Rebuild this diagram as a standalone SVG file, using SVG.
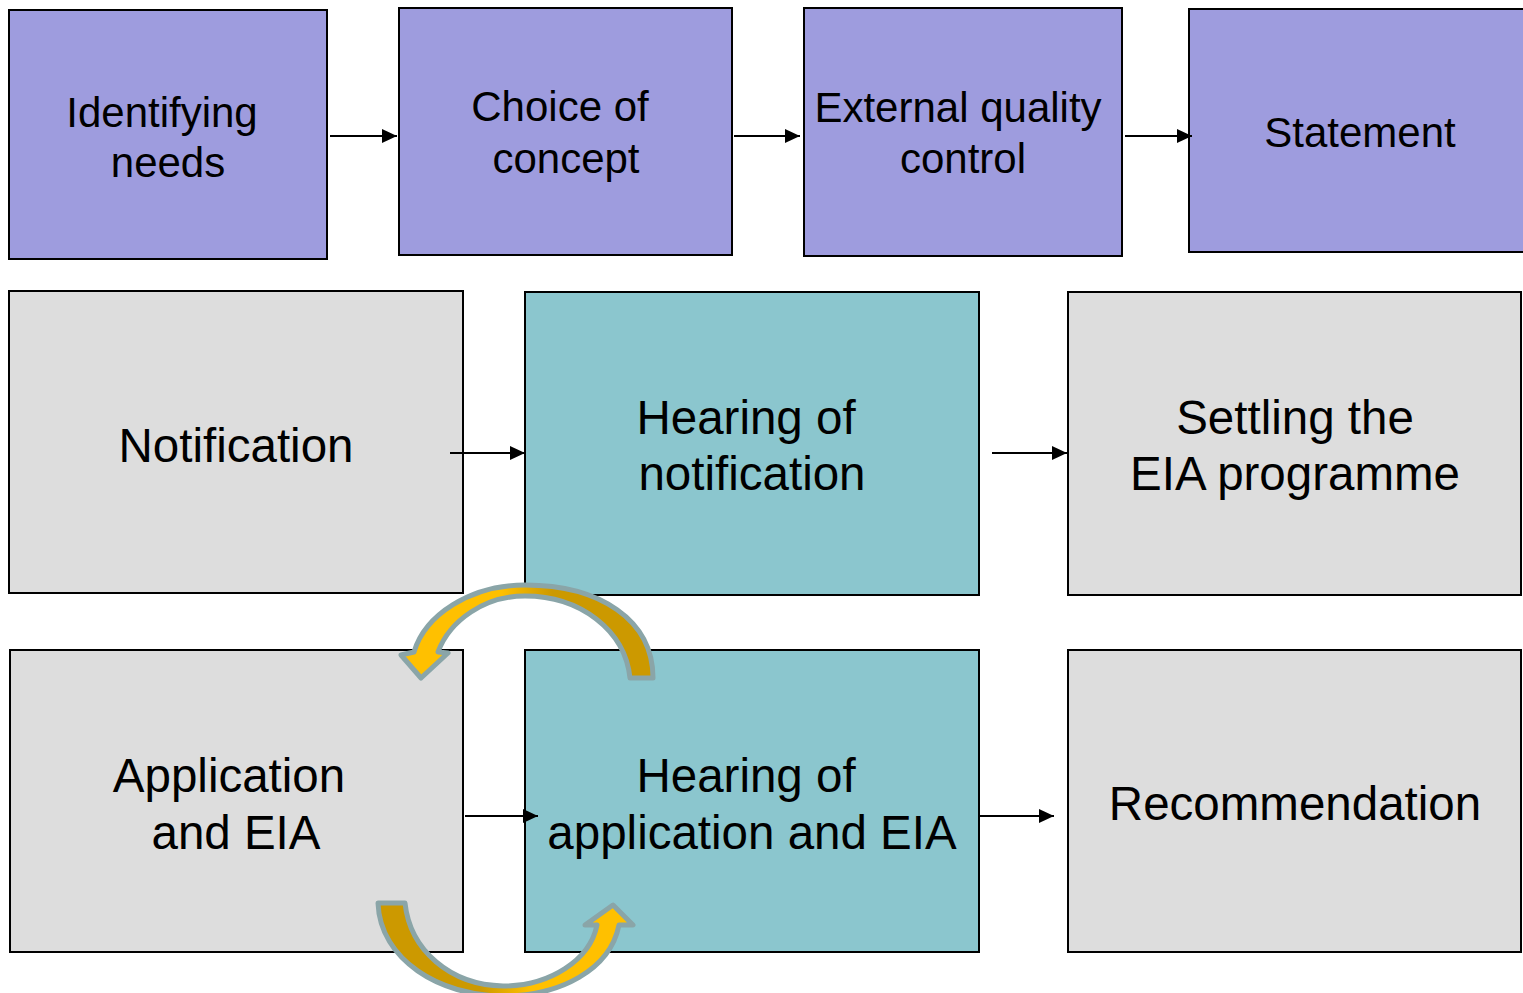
<svg xmlns="http://www.w3.org/2000/svg" width="1523" height="993" viewBox="0 0 1523 993">
<style>
.box{stroke:#000;stroke-width:2}
.p{fill:#9e9cde}
.g{fill:#dddddd}
.t{fill:#8bc6ce}
.lbl{font-family:"Liberation Sans",Arial,sans-serif;fill:#000;text-anchor:middle}
.s{font-size:42px}
.b{font-size:47.5px}
.c{stroke:#000;stroke-width:2;fill:none;marker-end:url(#ah)}
.curve{stroke:#8aa5a8;stroke-width:5;stroke-linejoin:round}
</style>
<defs>
<marker id="ah" markerWidth="15" markerHeight="14" refX="15" refY="7" orient="auto" markerUnits="userSpaceOnUse" viewBox="0 0 15 14">
<path d="M0,0 L15,7 L0,14 Z" fill="#000"/>
</marker>
<linearGradient id="gTop" x1="0" y1="0" x2="1" y2="0">
<stop offset="0.4" stop-color="#ffc000"/>
<stop offset="0.6" stop-color="#cc9900"/>
</linearGradient>
<linearGradient id="gBot" x1="0" y1="0" x2="1" y2="0">
<stop offset="0.4" stop-color="#cc9900"/>
<stop offset="0.6" stop-color="#ffc000"/>
</linearGradient>
</defs>
<rect width="1523" height="993" fill="#fff"/>
<g id="n1"><rect class="box p" x="9" y="10" width="318" height="249"/><text class="lbl s"><tspan x="162" y="127">Identifying</tspan><tspan x="168" y="177">needs</tspan></text></g>
<g id="n2"><rect class="box p" x="399" y="8" width="333" height="247"/><text class="lbl s"><tspan x="560" y="121">Choice of</tspan><tspan x="566" y="173">concept</tspan></text></g>
<g id="n3"><rect class="box p" x="804" y="8" width="318" height="248"/><text class="lbl s"><tspan x="958" y="122">External quality</tspan><tspan x="963" y="173">control</tspan></text></g>
<g id="n4"><rect class="box p" x="1189" y="9" width="340" height="243"/><text class="lbl s" x="1360" y="147">Statement</text></g>
<g id="n5"><rect class="box g" x="9" y="291" width="454" height="302"/><text class="lbl b" x="236" y="462">Notification</text></g>
<g id="n6"><rect class="box t" x="525" y="292" width="454" height="303"/><text class="lbl b"><tspan x="746" y="434">Hearing of</tspan><tspan x="752" y="490">notification</tspan></text></g>
<g id="n7"><rect class="box g" x="1068" y="292" width="453" height="303"/><text class="lbl b"><tspan x="1295" y="434">Settling the</tspan><tspan x="1295" y="490">EIA programme</tspan></text></g>
<g id="n8"><rect class="box g" x="10" y="650" width="453" height="302"/><text class="lbl b"><tspan x="229" y="792">Application</tspan><tspan x="236" y="849">and EIA</tspan></text></g>
<g id="n9"><rect class="box t" x="525" y="650" width="454" height="302"/><text class="lbl b"><tspan x="746" y="792">Hearing of</tspan><tspan x="752" y="849">application and EIA</tspan></text></g>
<g id="n10"><rect class="box g" x="1068" y="650" width="453" height="302"/><text class="lbl b" x="1295" y="820">Recommendation</text></g>
<g id="connectors">
<line class="c" x1="330" y1="136" x2="397" y2="136"/>
<line class="c" x1="734" y1="136" x2="800" y2="136"/>
<line class="c" x1="1125" y1="136" x2="1192" y2="136"/>
<line class="c" x1="450" y1="453" x2="525" y2="453"/>
<line class="c" x1="992" y1="453" x2="1067" y2="453"/>
<line class="c" x1="465" y1="816" x2="538" y2="816"/>
<line class="c" x1="980" y1="816" x2="1054" y2="816"/>
<path class="curve" fill="url(#gTop)" d="M630,678 L653,678 C653,620 600,585 525,585 C470,585 425,615 414,652 L401,655 L421,678 L448,653 L438,652 C450,620 485,596 525,596 C580,596 625,630 630,678 Z"/>
<path class="curve" fill="url(#gBot)" d="M378,903 L405,903 C410,950 450,985 503,986 C550,986 590,960 597,925 L585,925 L613,905 L633,925 L619,925 C610,970 560,996 503,996 C440,996 380,960 378,903 Z"/>
</g>
</svg>
